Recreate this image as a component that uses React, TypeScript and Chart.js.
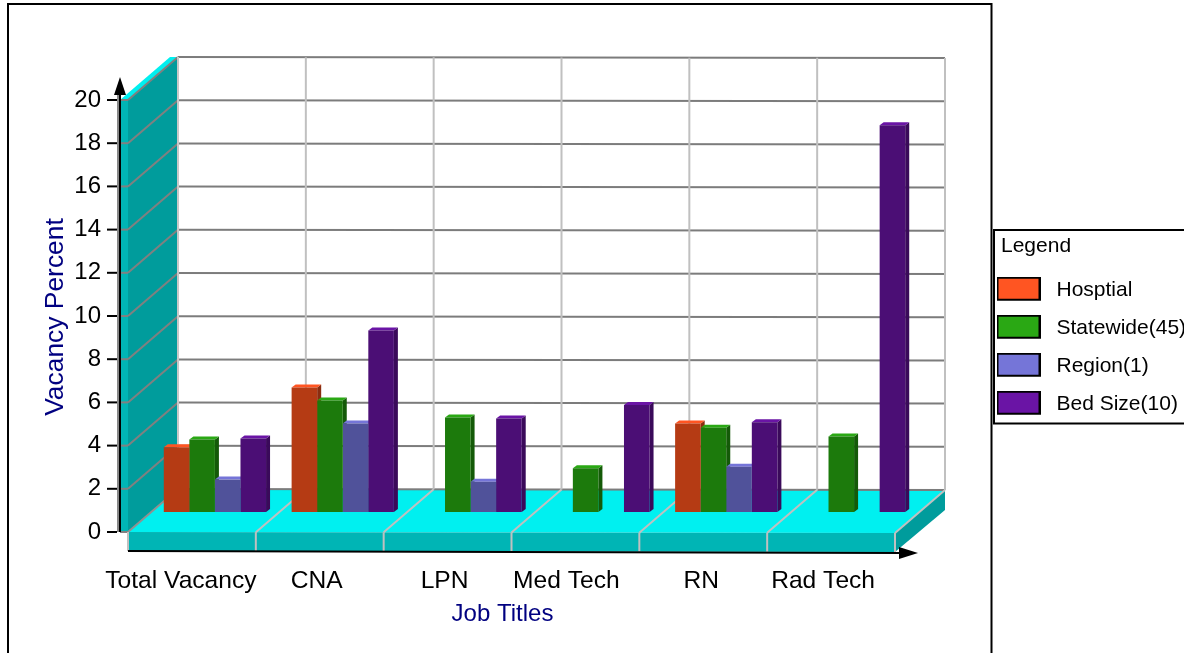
import React, { useEffect, useRef } from "react";
import { Chart, registerables } from "chart.js";

Chart.register(...registerables);

const categories = ["Total Vacancy", "CNA", "LPN", "Med Tech", "RN", "Rad Tech"];
const hospital = [3.0, 5.76, null, null, 4.1, null];
const statewide = [3.36, 5.16, 4.38, 2.03, 3.9, 3.5];
const region = [1.5, 4.1, 1.4, null, 2.1, null];
const bedSize = [3.4, 8.4, 4.33, 4.95, 4.15, 17.9];
const yTicks = [0, 2, 4, 6, 8, 10, 12, 14, 16, 18, 20];

const labelNudge = [-11, -3, -3, -9, -2, -8];
const FONT = "'Liberation Sans', Arial, sans-serif";
const DEPTH_X = 50, DEPTH_Y = 43, BAR_SHIFT_X = 23, BAR_SHIFT_Y = 20, TILT = 1;

const series = [
  { label: "Hosptial", data: hospital, front: "#b53b14", top: "#ff5522", side: "#8a2d10" },
  { label: "Statewide(45)", data: statewide, front: "#1c7a0c", top: "#2aa814", side: "#145a08" },
  { label: "Region(1)", data: region, front: "#50529a", top: "#7575d8", side: "#3d3e75" },
  { label: "Bed Size(10)", data: bedSize, front: "#4b0e75", top: "#6a14a5", side: "#3a0a5a" },
];

function poly(ctx: any, pts: number[][], fill: string) {
  ctx.beginPath();
  pts.forEach((p, i) => (i ? ctx.lineTo(p[0], p[1]) : ctx.moveTo(p[0], p[1])));
  ctx.closePath();
  ctx.fillStyle = fill;
  ctx.fill();
}
function line(ctx: any, x1: number, y1: number, x2: number, y2: number, color: string, w = 2) {
  ctx.beginPath();
  ctx.moveTo(x1, y1);
  ctx.lineTo(x2, y2);
  ctx.strokeStyle = color;
  ctx.lineWidth = w;
  ctx.stroke();
}
function swatch(color: string) {
  const c = document.createElement("canvas");
  c.width = 44;
  c.height = 28;
  const g = c.getContext("2d")!;
  g.fillStyle = "#000";
  g.fillRect(0, 0, 44, 24);
  g.fillStyle = color;
  g.fillRect(2, 2, 40, 20);
  return c;
}
function nudgeMethod(obj: any, name: string, dx: number, dy: number) {
  if (obj["__nudged" + name]) return;
  obj["__nudged" + name] = true;
  const orig = obj[name];
  obj[name] = function (...a: any[]) {
    const ctx = this.ctx;
    ctx.save();
    ctx.translate(dx, dy);
    orig.apply(this, a);
    ctx.restore();
  };
}

const scene3d = {
  id: "scene3d",
  afterLayout(chart: any) {
    const lg = chart.legend;
    if (lg) {
      lg.left = 974;
      lg.right = 1184;
      lg.top = 238;
      lg.bottom = 640;
      lg.width = 210;
      lg.height = 402;
      nudgeMethod(lg, "drawTitle", 27, -2);
    }
    nudgeMethod(chart.scales.x, "drawTitle", -9, 2);
    nudgeMethod(chart.scales.y, "drawTitle", 1, 1);
  },
  beforeDraw(chart: any) {
    const ctx = chart.ctx;
    ctx.save();
    line(ctx, 7, 4, 992, 4, "#000");
    line(ctx, 8, 3, 8, 653, "#000");
    line(ctx, 991.5, 3, 991.5, 653, "#000");
    line(ctx, 994, 229, 994, 424, "#000");
    line(ctx, 993, 230, 1184, 230, "#000");
    line(ctx, 993, 423.5, 1184, 423.5, "#000");
    ctx.restore();
    const xs = chart.scales.x;
    const items = xs.getLabelItems(chart.chartArea);
    items.forEach((it: any, i: number) => {
      if (!it.__n) {
        it.options.translation[0] += labelNudge[i];
        it.__n = true;
      }
    });
  },
  beforeDatasetsDraw(chart: any) {
    const ctx = chart.ctx;
    const { left: L, right: R, bottom: B } = chart.chartArea;
    const ys = chart.scales.y;
    const T = ys.getPixelForValue(20);
    ctx.save();
    poly(ctx, [[120, T], [L, T], [L + DEPTH_X, T - DEPTH_Y], [L + DEPTH_X - 8, T - DEPTH_Y]], "#00f0f0");
    poly(ctx, [[120, T], [L, T], [L, B], [120, B]], "#00b5b5");
    poly(ctx, [[L, T], [L + DEPTH_X, T - DEPTH_Y], [L + DEPTH_X, B - DEPTH_Y], [L, B]], "#009c9c");
    poly(ctx, [[L, B], [L + DEPTH_X, B - DEPTH_Y], [R + DEPTH_X, B - DEPTH_Y + TILT], [R, B + TILT]], "#00f0f0");
    poly(ctx, [[L, B], [R, B + TILT], [R, B + 20], [L, B + 19]], "#00b5b5");
    poly(ctx, [[R, B + TILT], [R + DEPTH_X, B - DEPTH_Y + TILT], [R + DEPTH_X, B - 22], [R, B + 20]], "#009c9c");
    yTicks.forEach((v) => {
      const y = ys.getPixelForValue(v);
      if (v > 0) line(ctx, L, y, L + DEPTH_X, y - DEPTH_Y, "#808080");
      line(ctx, 120, y, L, y, "#808080");
      line(ctx, L + DEPTH_X, y - DEPTH_Y, R + DEPTH_X, y - DEPTH_Y + TILT, "#7c7c7c");
      line(ctx, 107, y, 117, y, "#000");
    });
    const step = (R - L) / categories.length;
    categories.concat([""]).forEach((_, i) => {
      const x = L + step * i;
      const t = (TILT * i) / categories.length;
      if (i > 0) line(ctx, x + DEPTH_X, T - DEPTH_Y + t, x + DEPTH_X, B - DEPTH_Y + t, "#c0c0c0");
      line(ctx, x, B + t, x + DEPTH_X, B - DEPTH_Y + t, i === 0 ? "#909090" : "#c0c0c0");
      line(ctx, x, B + t, x, B + 19 + t, "#c0c0c0");
    });
    line(ctx, L + DEPTH_X, T - DEPTH_Y, L + DEPTH_X, B - DEPTH_Y, "#c8c8c8");
    line(ctx, 118, 95, 118, B, "#888");
    line(ctx, 120, 90, 120, B, "#000");
    poly(ctx, [[120, 77], [126, 95], [114, 95]], "#000");
    line(ctx, L, B + 19, 900, B + 21, "#000");
    poly(ctx, [[918, B + 21], [899, B + 15], [899, B + 27]], "#000");
    ctx.restore();
    ctx.save();
    ctx.translate(BAR_SHIFT_X, -BAR_SHIFT_Y);
    const dx = 4, dy = 3;
    series.forEach((s, di) => {
      chart.getDatasetMeta(di).data.forEach((bar: any, i: number) => {
        if (s.data[i] == null) return;
        const l = bar.x - bar.width / 2, r = bar.x + bar.width / 2, t = bar.y, b = bar.base;
        poly(ctx, [[r, t], [r + dx, t - dy], [r + dx, b - dy], [r, b]], s.side);
        poly(ctx, [[l, t], [l + dx, t - dy], [r + dx, t - dy], [r, t]], s.top);
      });
    });
  },
  afterDatasetsDraw(chart: any) {
    chart.ctx.restore();
  },
};

export default function App() {
  const ref = useRef<HTMLCanvasElement>(null);
  useEffect(() => {
    const chart = new Chart(ref.current!, {
      type: "bar",
      data: {
        labels: categories,
        datasets: series.map((s) => ({
          label: s.label,
          data: s.data,
          backgroundColor: s.front,
          borderWidth: 0,
          barPercentage: 1,
          categoryPercentage: 0.8,
          clip: false as any,
        })),
      },
      options: {
        responsive: false,
        animation: false,
        layout: { padding: { left: 39, top: 100, right: 289, bottom: 26 } },
        scales: {
          x: {
            grid: { display: false, drawTicks: false },
            border: { display: false },
            ticks: { color: "#000", font: { family: FONT, size: 24.6 }, padding: 34, maxRotation: 0, autoSkip: false },
            title: { display: true, text: "Job Titles", color: "#000080", font: { family: FONT, size: 24 }, padding: 0 },
            afterFit: (s: any) => { s.height = 95; },
          },
          y: {
            min: 0,
            max: 20,
            grid: { display: false, drawTicks: false },
            border: { display: false },
            ticks: { stepSize: 2, color: "#000", font: { family: FONT, size: 24 }, padding: 27 },
            title: { display: true, text: "Vacancy Percent", color: "#000080", font: { family: FONT, size: 26.4 }, padding: 0 },
            afterFit: (s: any) => { s.width = 89; },
          },
        },
        plugins: {
          tooltip: { enabled: false },
          legend: {
            position: "chartArea" as any,
            align: "start",
            title: { display: true, text: "Legend", color: "#000", font: { family: FONT, size: 21 }, position: "start", padding: { top: 0, bottom: 0 } } as any,
            labels: {
              color: "#000",
              font: { family: FONT, size: 21 },
              usePointStyle: true,
              pointStyleWidth: 55,
              padding: 17,
              generateLabels: () =>
                series.map((s) => ({ text: s.label, fillStyle: s.top, strokeStyle: "#000", pointStyle: swatch(s.top) as any, lineWidth: 0, hidden: false })),
            },
          } as any,
        },
      },
      plugins: [scene3d],
    });
    return () => chart.destroy();
  }, []);
  return <canvas ref={ref} width={1184} height={653} style={{ position: "absolute", left: 0, top: 0, display: "block" }} />;
}
